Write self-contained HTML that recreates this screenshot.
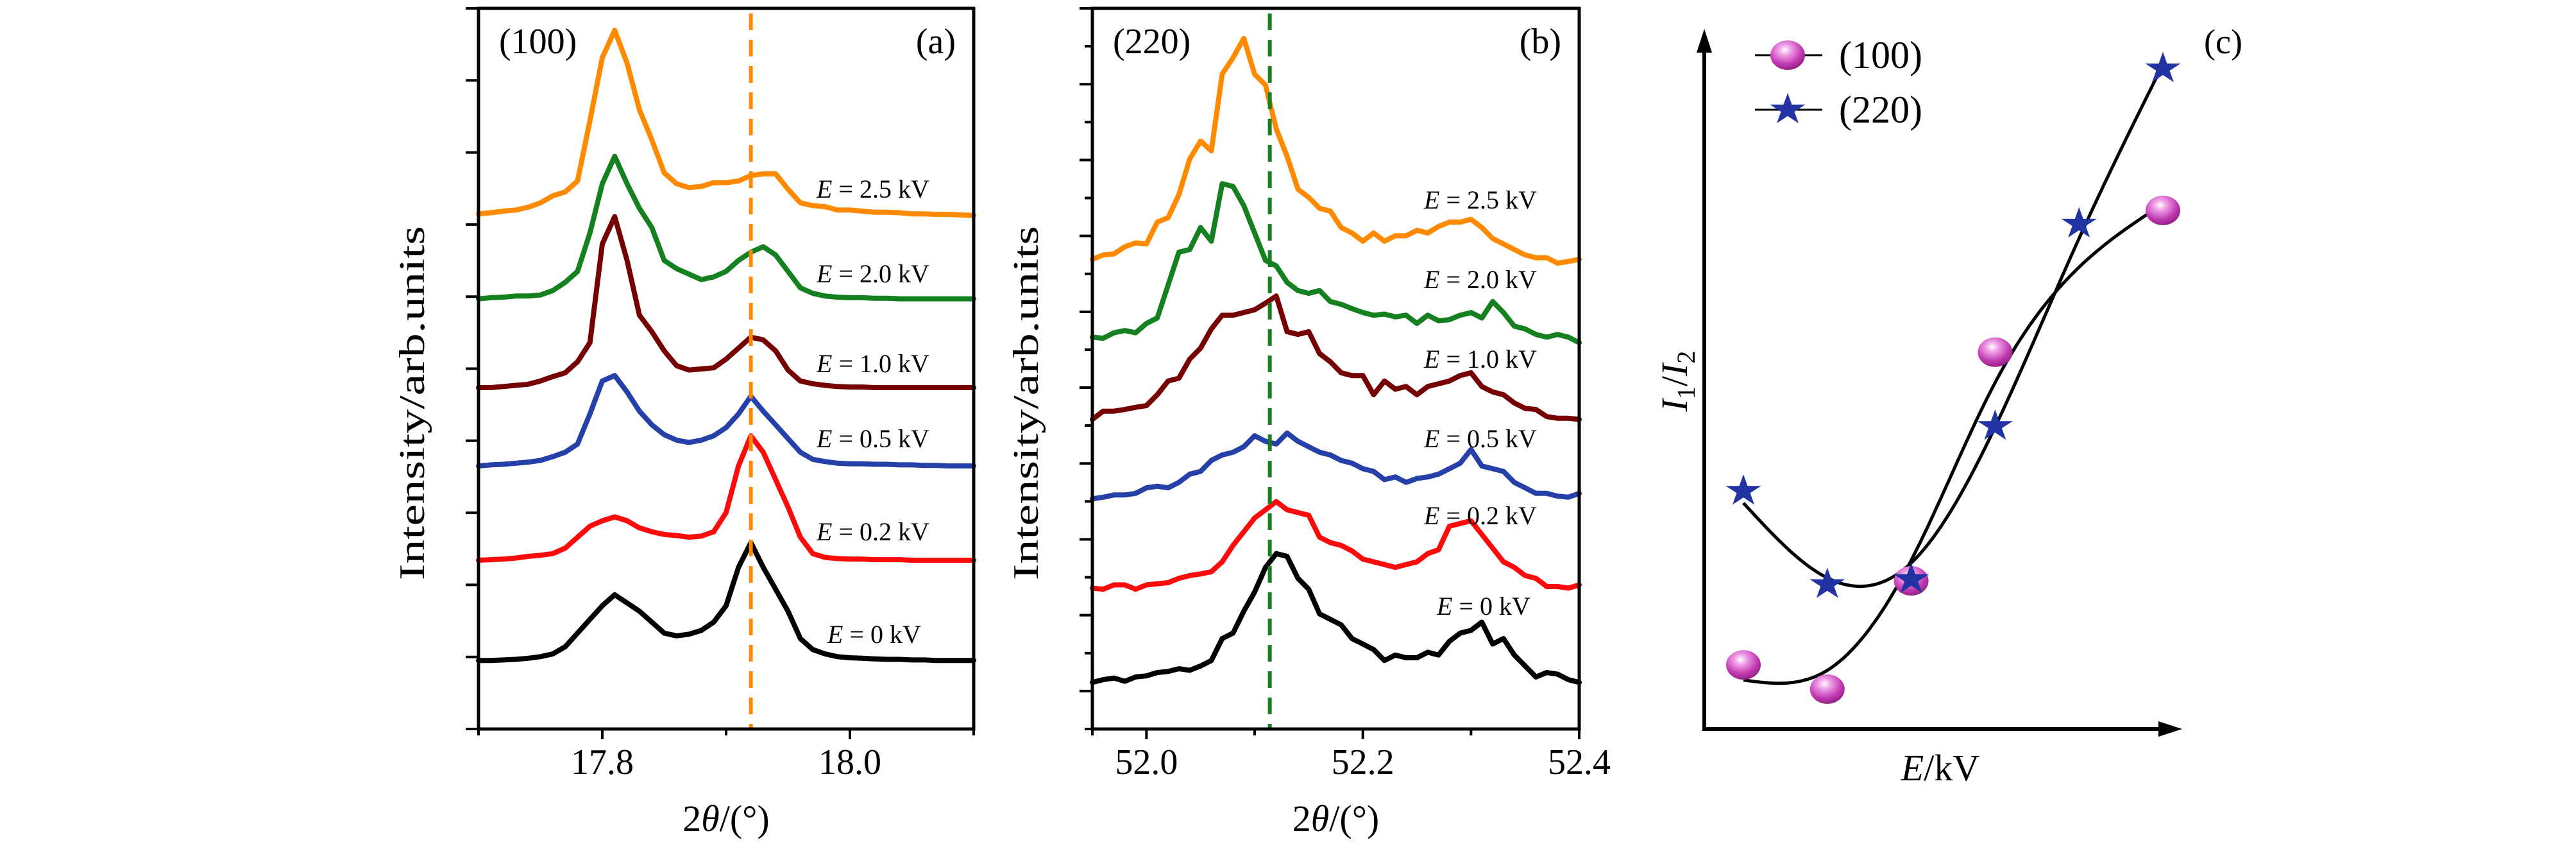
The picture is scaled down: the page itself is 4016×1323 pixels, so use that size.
<!DOCTYPE html>
<html><head><meta charset="utf-8"><style>
html,body{margin:0;padding:0;background:#fff}
svg{display:block}
text{font-family:"Liberation Serif",serif;fill:#000}
</style></head><body>
<svg id="fig" width="4016" height="1323" viewBox="0 0 4016 1323" xmlns="http://www.w3.org/2000/svg">
<defs>
<radialGradient id="sph" cx="0.42" cy="0.32" r="0.7">
<stop offset="0" stop-color="#ffffff"/><stop offset="0.25" stop-color="#f0a0e8"/><stop offset="0.7" stop-color="#c038b0"/><stop offset="1" stop-color="#902080"/>
</radialGradient>
</defs>
</svg>
<script>
// ---------- Panel (a) data ----------
const aTheta = [17.70,17.71,17.72,17.73,17.74,17.75,17.76,17.77,17.78,17.79,17.80,17.81,17.82,17.83,17.84,17.85,17.86,17.87,17.88,17.89,17.90,17.91,17.92,17.93,17.94,17.95,17.96,17.97,17.98,17.99,18.00,18.01,18.02,18.03,18.04,18.05,18.06,18.07,18.08,18.09,18.10];
const aOrange = [9.40,9.42,9.45,9.47,9.52,9.60,9.73,9.80,10.00,11.10,12.25,12.75,12.15,11.30,10.75,10.15,9.95,9.88,9.90,9.97,9.97,10.00,10.10,10.13,10.13,9.85,9.60,9.55,9.53,9.47,9.47,9.45,9.43,9.43,9.42,9.40,9.40,9.39,9.39,9.38,9.37];
const aGreen = [7.85,7.87,7.88,7.90,7.90,7.92,8.00,8.15,8.35,9.05,9.95,10.45,9.95,9.50,9.15,8.55,8.40,8.30,8.20,8.25,8.35,8.55,8.70,8.80,8.65,8.35,8.05,7.95,7.90,7.88,7.87,7.87,7.86,7.86,7.85,7.85,7.85,7.85,7.85,7.85,7.85];
const aMaroon = [6.23,6.23,6.25,6.27,6.29,6.35,6.43,6.50,6.70,7.05,8.85,9.35,8.55,7.55,7.25,6.90,6.63,6.55,6.57,6.59,6.75,6.95,7.15,7.10,6.90,6.55,6.35,6.30,6.27,6.25,6.24,6.24,6.23,6.23,6.23,6.23,6.23,6.23,6.23,6.23,6.23];
const aBlue = [4.80,4.82,4.83,4.85,4.87,4.90,4.97,5.05,5.20,5.75,6.35,6.45,6.15,5.80,5.55,5.37,5.27,5.23,5.27,5.35,5.50,5.75,6.07,5.80,5.55,5.30,5.05,4.92,4.88,4.85,4.84,4.84,4.83,4.83,4.82,4.82,4.81,4.81,4.80,4.80,4.80];
const aRed = [3.08,3.09,3.10,3.12,3.15,3.17,3.20,3.30,3.50,3.70,3.80,3.87,3.80,3.67,3.60,3.55,3.53,3.50,3.52,3.60,3.95,4.80,5.35,5.05,4.55,4.05,3.50,3.20,3.13,3.11,3.10,3.10,3.09,3.09,3.09,3.08,3.08,3.08,3.08,3.08,3.08];
const aBlack = [1.25,1.25,1.26,1.27,1.29,1.32,1.37,1.50,1.75,2.00,2.25,2.45,2.30,2.15,1.95,1.75,1.70,1.73,1.80,1.95,2.25,2.95,3.40,2.95,2.55,2.15,1.65,1.45,1.37,1.32,1.30,1.29,1.28,1.27,1.27,1.26,1.26,1.25,1.25,1.25,1.25];
const aTicks = [17.8, 18.0];
const aMinorTicks = [17.7, 17.9, 18.1];
const aRef = 17.92;

// ---------- Panel (b) data ----------
const bTheta = [51.95,51.96,51.97,51.98,51.99,52.00,52.01,52.02,52.03,52.04,52.05,52.06,52.07,52.08,52.09,52.10,52.11,52.12,52.13,52.14,52.15,52.16,52.17,52.18,52.19,52.20,52.21,52.22,52.23,52.24,52.25,52.26,52.27,52.28,52.29,52.30,52.31,52.32,52.33,52.34,52.35,52.36,52.37,52.38,52.39,52.40];
const bOrange = [8.57,8.65,8.67,8.80,8.87,8.85,9.25,9.33,9.75,10.40,10.73,10.55,11.95,12.25,12.60,11.95,11.75,10.95,10.45,9.85,9.70,9.50,9.45,9.15,9.05,8.90,9.05,8.90,9.00,9.00,9.10,9.05,9.17,9.25,9.25,9.30,9.15,8.95,8.85,8.75,8.65,8.60,8.60,8.50,8.53,8.57];
const bGreen = [7.15,7.13,7.23,7.27,7.23,7.40,7.50,8.10,8.70,8.75,9.15,8.90,9.95,9.90,9.55,9.05,8.55,8.45,8.15,8.00,7.95,8.00,7.80,7.75,7.67,7.60,7.55,7.57,7.52,7.55,7.40,7.55,7.45,7.47,7.55,7.60,7.50,7.80,7.60,7.35,7.30,7.20,7.15,7.20,7.15,7.05];
const bMaroon = [5.65,5.80,5.80,5.83,5.87,5.90,6.10,6.35,6.40,6.75,6.95,7.30,7.55,7.55,7.60,7.65,7.77,7.90,7.25,7.20,7.25,6.85,6.70,6.50,6.45,6.45,6.10,6.35,6.20,6.25,6.10,6.25,6.30,6.35,6.45,6.50,6.25,6.15,6.10,5.95,5.85,5.83,5.70,5.67,5.67,5.65];
const bBlue = [4.20,4.23,4.27,4.27,4.30,4.40,4.43,4.40,4.50,4.65,4.70,4.90,5.00,5.05,5.15,5.35,5.25,5.20,5.40,5.25,5.15,5.05,5.00,4.90,4.85,4.75,4.70,4.55,4.60,4.50,4.57,4.60,4.65,4.75,4.85,5.10,4.80,4.75,4.70,4.50,4.40,4.30,4.30,4.25,4.23,4.30];
const bRed = [2.57,2.55,2.63,2.63,2.55,2.63,2.65,2.67,2.75,2.80,2.83,2.87,3.05,3.35,3.60,3.85,4.00,4.15,4.00,3.95,3.90,3.50,3.40,3.35,3.25,3.10,3.05,3.00,2.95,3.00,3.05,3.20,3.27,3.70,3.75,3.80,3.55,3.30,3.05,2.95,2.80,2.75,2.60,2.60,2.57,2.63];
const bBlack = [0.85,0.90,0.93,0.87,0.95,0.97,1.03,1.05,1.10,1.07,1.15,1.25,1.65,1.75,2.15,2.50,2.95,3.20,3.15,2.75,2.55,2.10,2.00,1.90,1.65,1.55,1.45,1.25,1.35,1.30,1.30,1.40,1.35,1.60,1.75,1.80,1.95,1.55,1.65,1.35,1.15,0.95,1.03,1.00,0.90,0.85];
const bTicks = [52.0, 52.2, 52.4];
const bMinorTicks = [51.95, 52.1, 52.3];
const bRef = 52.114;

const labelValues = ["2.5","2.0","1.0","0.5","0.2","0"];

// ---------- Panel (c) data ----------
const cIndex100 = [0,1,2,3,5];
const cValues100 = [0.9,0.56,2.08,5.29,7.28];
const cIndex220 = [0,1,2,3,4,5];
const cValues220 = [3.34,2.03,2.1,4.25,7.09,9.27];

const NS="http://www.w3.org/2000/svg";
const svg=document.getElementById('fig');
function mk(tag,attrs,parent){const e=document.createElementNS(NS,tag);for(const k in attrs)e.setAttribute(k,attrs[k]);(parent||svg).appendChild(e);return e;}

const colors=["#ff8a00","#15801f","#760000","#2540a8","#ff0a0a","#000000"];
const names=["2p5kv","2p0kv","1p0kv","0p5kv","0p2kv","0kv"];

function panel(cfg){
  const g=mk('g',{});
  
  
  const X=v=>cfg.x0+(v-cfg.xmin)/(cfg.xmax-cfg.xmin)*(cfg.x1-cfg.x0);
  const Y=v=>cfg.y0+(13.15-v)/13.15*(cfg.y1-cfg.y0);
  cfg.series.forEach((arr,i)=>{
    const d=arr.map((v,j)=>(j?'L':'M')+X(cfg.theta[j]).toFixed(1)+' '+Y(v).toFixed(1)).join(' ');
    const p=mk('path',{d:d,fill:'none',stroke:colors[i],'stroke-width':8,'stroke-linejoin':'round','stroke-linecap':'round'},g);
    
    
  });
  const rl=mk('line',{x1:X(cfg.ref),x2:X(cfg.ref),y1:cfg.y0+8,y2:cfg.y1,stroke:cfg.refColor,'stroke-width':6,'stroke-dasharray':'26 15'},g);
  
  
  const fr=mk('rect',{x:cfg.x0,y:cfg.y0,width:cfg.x1-cfg.x0,height:cfg.y1-cfg.y0,fill:'none',stroke:'#000','stroke-width':5},g);
  
  
  for(let k=0;k<=cfg.nY;k++){
    const y=cfg.y0+k*(cfg.y1-cfg.y0)/cfg.nY;
    const len=(cfg.alt&&k%2)?12:20;
    const t=mk('line',{x1:cfg.x0-len,x2:cfg.x0,y1:y,y2:y,stroke:'#000','stroke-width':4},g);
    
    
  }
  cfg.ticks.forEach(v=>{
    const t=mk('line',{x1:X(v),x2:X(v),y1:cfg.y1,y2:cfg.y1+16,stroke:'#000','stroke-width':4},g);
    
    
    const tl=mk('text',{x:X(v),y:cfg.y1+70,'font-size':56,'text-anchor':'middle'},g);
    tl.textContent=v.toFixed(1);
    
    
  });
  cfg.minor.forEach(v=>{
    const t=mk('line',{x1:X(v),x2:X(v),y1:cfg.y1,y2:cfg.y1+10,stroke:'#000','stroke-width':4},g);
    
    
  });
  cfg.labelPos.forEach((p,i)=>{
    const t=mk('text',{x:p[0],y:p[1]+13,'font-size':40},g);
    t.innerHTML='<tspan font-style="italic">E</tspan> = '+labelValues[i]+' kV';
    
    
  });
  const pl=mk('text',{x:cfg.x0+32,y:cfg.y0+70,'font-size':56},g);
  pl.textContent=cfg.plane;
  
  
  const cl=mk('text',{x:cfg.x1-28,y:cfg.y0+70,'font-size':56,'text-anchor':'end'},g);
  cl.textContent=cfg.letter;
  
  
  const xt=mk('text',{x:(cfg.x0+cfg.x1)/2,y:1295,'font-size':58,'text-anchor':'middle'},g);
  xt.innerHTML='2<tspan font-style="italic">θ</tspan>/(°)';
  
  
  const yt=mk('text',{x:0,y:0,'font-size':56,'text-anchor':'middle',textLength:552,lengthAdjust:'spacingAndGlyphs',transform:'translate('+(cfg.x0-85)+',628) rotate(-90)'},g);
  yt.textContent='Intensity/arb.units';
  
  
}

panel({id:'panel-a',x0:746,x1:1518,y0:13,y1:1136,xmin:17.7,xmax:18.1,theta:aTheta,
  series:[aOrange,aGreen,aMaroon,aBlue,aRed,aBlack],ref:aRef,refColor:'#ff8a00',nY:10,alt:false,
  ticks:aTicks,minor:aMinorTicks,plane:'(100)',letter:'(a)',
  labelPos:[[1273,295],[1273,427],[1273,567],[1273,684],[1273,829],[1290,989]]});
panel({id:'panel-b',x0:1703,x1:2462,y0:13,y1:1136,xmin:51.95,xmax:52.4,theta:bTheta,
  series:[bOrange,bGreen,bMaroon,bBlue,bRed,bBlack],ref:bRef,refColor:'#15801f',nY:19,alt:true,
  ticks:bTicks,minor:bMinorTicks,plane:'(220)',letter:'(b)',
  labelPos:[[2220,312],[2220,436],[2220,560],[2220,684],[2220,804],[2240,945]]});

// ---------- Panel (c) ----------
(function(){
  const g=mk('g',{});
  
  
  const X=i=>2718+i*130.8;
  const Y=v=>1136-111*v;
  const ya=mk('line',{x1:2657,x2:2657,y1:1138,y2:70,stroke:'#000','stroke-width':6},g);
  
  
  const yh=mk('path',{d:'M2657 45 L2645 82 L2669 82 Z',fill:'#000'},g);
  
  
  const xa=mk('line',{x1:2654,x2:3375,y1:1136,y2:1136,stroke:'#000','stroke-width':6},g);
  
  
  const xh=mk('path',{d:'M3402 1136 L3365 1124 L3365 1148 Z',fill:'#000'},g);
  
  
  // discrete smoothing spline on a fine grid
  function smooth(xs,ys,lam){
    const N=101,h=0.05,n=N;
    const A=[];for(let i=0;i<n;i++){A.push(new Float64Array(n));}
    const b=new Float64Array(n);
    xs.forEach((x,k)=>{const i=Math.round(x/h);A[i][i]+=1;b[i]+=ys[k];});
    const w=lam/Math.pow(h,3);
    for(let i=1;i<n-1;i++){const idx=[i-1,i,i+1],c=[1,-2,1];
      for(let a=0;a<3;a++)for(let bb=0;bb<3;bb++)A[idx[a]][idx[bb]]+=w*c[a]*c[bb];}
    for(let i=0;i<n;i++){let p=i;for(let r=i+1;r<Math.min(n,i+4);r++)if(Math.abs(A[r][i])>Math.abs(A[p][i]))p=r;
      if(p!==i){[A[i],A[p]]=[A[p],A[i]];[b[i],b[p]]=[b[p],b[i]];}
      for(let r=i+1;r<Math.min(n,i+5);r++){const f=A[r][i]/A[i][i];if(!f)continue;for(let c=i;c<n;c++)A[r][c]-=f*A[i][c];b[r]-=f*b[i];}}
    const f=new Float64Array(n);
    for(let i=n-1;i>=0;i--){let s=b[i];for(let j=i+1;j<n;j++)s-=A[i][j]*f[j];f[i]=s/A[i][i];}
    return f;
  }
  [[cIndex100,cValues100,'fit-curve-100'],[cIndex220,cValues220,'fit-curve-220']].forEach(s=>{
    const f=smooth(s[0],s[1],0.12);let d='';
    for(let t=0;t<=100;t++){d+=(t?'L':'M')+X(t*0.05).toFixed(1)+' '+Y(f[t]).toFixed(1)+' ';}
    const p=mk('path',{d:d,fill:'none',stroke:'#000','stroke-width':5},g);
    
    
  });
  function sphere(cx,cy,parent){return mk('ellipse',{cx:cx,cy:cy,rx:27,ry:23,fill:'url(#sph)'},parent);}
  function star(cx,cy,parent){let d='';for(let k=0;k<10;k++){const r=k%2?11:29;const a=-Math.PI/2+k*Math.PI/5;d+=(k?'L':'M')+(cx+r*Math.cos(a)).toFixed(1)+' '+(cy+r*Math.sin(a)*0.9).toFixed(1);}return mk('path',{d:d+'Z',fill:'#2233a3'},parent);}
  cIndex100.forEach((i,k)=>{const e=sphere(X(i),Y(cValues100[k]),g);
    
    });
  cIndex220.forEach((i,k)=>{const e=star(X(i),Y(cValues220[k]),g);
    
    });
  const lg=mk('g',{},g);
  
  
  [[86,'(100)',sphere],[171,'(220)',star]].forEach((r,k)=>{
    const l=mk('line',{x1:2736,x2:2841,y1:r[0],y2:r[0],stroke:'#000','stroke-width':3},lg);
    
    
    const m=r[2](2787,r[0],lg);
    
    
    const t=mk('text',{x:2867,y:r[0]+20,'font-size':60},lg);
    t.textContent=r[1];
    
    
  });
  const cl=mk('text',{x:3436,y:83,'font-size':54},g);
  cl.textContent='(c)';
  
  
  const xt=mk('text',{x:3025,y:1216,'font-size':58,'text-anchor':'middle'},g);
  xt.innerHTML='<tspan font-style="italic">E</tspan>/kV';
  
  
  const yt=mk('text',{x:0,y:0,'font-size':58,'text-anchor':'middle',transform:'translate(2630,594) rotate(-90)'},g);
  yt.innerHTML='<tspan font-style="italic">I</tspan><tspan font-size="40" dy="12">1</tspan><tspan dy="-12">/</tspan><tspan font-style="italic">I</tspan><tspan font-size="40" dy="12">2</tspan>';
  
  
})();
</script>
</body></html>
